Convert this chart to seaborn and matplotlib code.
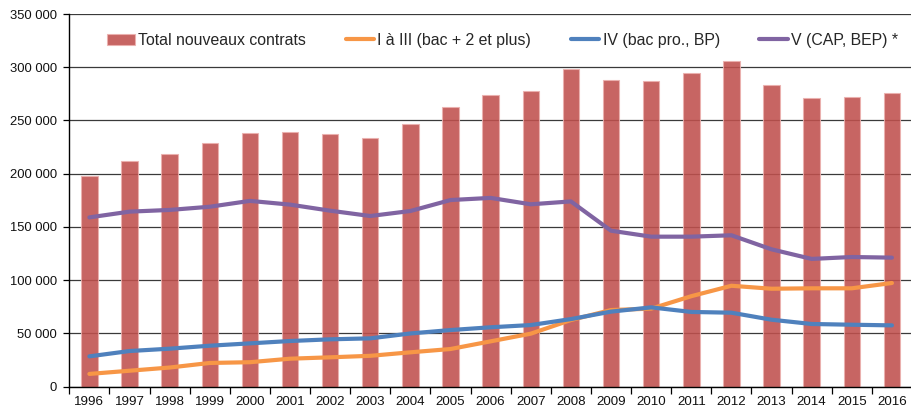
import matplotlib
matplotlib.use("Agg")
import matplotlib.pyplot as plt
import matplotlib.ticker as mticker
import numpy as np
import pandas as pd
import seaborn as sns

years = ["1996", "1997", "1998", "1999", "2000", "2001", "2002", "2003", "2004", "2005",
         "2006", "2007", "2008", "2009", "2010", "2011", "2012", "2013", "2014", "2015", "2016"]
total = [198000, 212000, 219000, 228500, 238000, 239500, 237000, 233500, 246500, 263000,
         274000, 278000, 298500, 288000, 287500, 295000, 306000, 283000, 271000, 272000, 275500]
niv_1_3 = [12000, 15000, 18000, 22300, 23000, 26300, 27600, 29000, 32300, 35400,
           42600, 49800, 62600, 72000, 73300, 85000, 94800, 92000, 92400, 92400, 97400]
niv_4 = [28500, 33500, 35700, 38500, 40700, 42900, 44500, 45400, 50000, 53200,
         55800, 57900, 63500, 70500, 74500, 70200, 69500, 62900, 58900, 58200, 57600]
niv_5 = [159000, 164400, 166000, 169000, 174500, 171000, 165300, 160300, 165000, 175300,
         177300, 171300, 174000, 146500, 140900, 140900, 142200, 129000, 120000, 121800, 121200]

labels = ["Total nouveaux contrats", "I à III (bac + 2 et plus)",
          "IV (bac pro., BP)", "V (CAP, BEP) *"]

sns.set_theme(style="white")
plt.rcParams["font.family"] = ["Liberation Sans", "DejaVu Sans"]

df = pd.DataFrame({"annee": years, "total": total, "n13": niv_1_3, "n4": niv_4, "n5": niv_5})
df["pos"] = np.arange(len(years))

fig = plt.figure(figsize=(9.12, 4.12), dpi=100)
ax = fig.add_axes([0.076, 0.0614, 0.924, 0.9046])

ax.set_axisbelow(True)
ax.yaxis.grid(True, color="#3a3a3a", linewidth=0.9)
ax.xaxis.grid(False)

sns.barplot(data=df, x="pos", y="total", ax=ax, color="#C0504D", width=0.41,
            saturation=1, alpha=0.88, edgecolor="#EBB0AE", linewidth=0.8,
            label=labels[0], native_scale=True)

line_colors = ["#F79646", "#4F81BD", "#8064A2"]
for col, lab, c in zip(["n13", "n4", "n5"], labels[1:], line_colors):
    sns.lineplot(data=df, x="pos", y=col, ax=ax, color=c, linewidth=3.0,
                 label=lab, solid_capstyle="round", solid_joinstyle="round", zorder=3)

ax.set_xlim(-0.5, len(years) - 0.5)
ax.set_ylim(0, 350000)
ax.set_yticks(np.arange(0, 350001, 50000))
ax.yaxis.set_major_formatter(mticker.FuncFormatter(lambda v, p: f"{v:,.0f}".replace(",", " ")))

ax.set_xticks(np.arange(-0.5, len(years), 1.0))
ax.set_xticklabels([])
ax.set_xticks(df["pos"], minor=True)
ax.set_xticklabels(years, minor=True)
ax.tick_params(axis="x", which="major", direction="out", length=5, width=0.9,
               color="black", bottom=True)
ax.tick_params(axis="x", which="minor", length=0, pad=7, labelsize=9.6, labelcolor="#111111")
ax.tick_params(axis="y", direction="out", length=4, width=0.9, color="black",
               left=True, pad=5, labelsize=9.4, labelcolor="#111111")
ax.set_xlabel("")
ax.set_ylabel("")

for s in ["top", "right"]:
    ax.spines[s].set_visible(False)
for s in ["left", "bottom"]:
    ax.spines[s].set_color("black")
    ax.spines[s].set_linewidth(1.0)

handles, labs = ax.get_legend_handles_labels()
order = [labs.index(l) for l in labels]
leg = ax.legend([handles[i] for i in order], [labs[i] for i in order],
                loc="center", bbox_to_anchor=(0.514, 0.93), ncol=4, frameon=False,
                fontsize=11.4, handlelength=1.8, handletextpad=0.2, columnspacing=2.5)

fig.savefig("out.png", dpi=100)
